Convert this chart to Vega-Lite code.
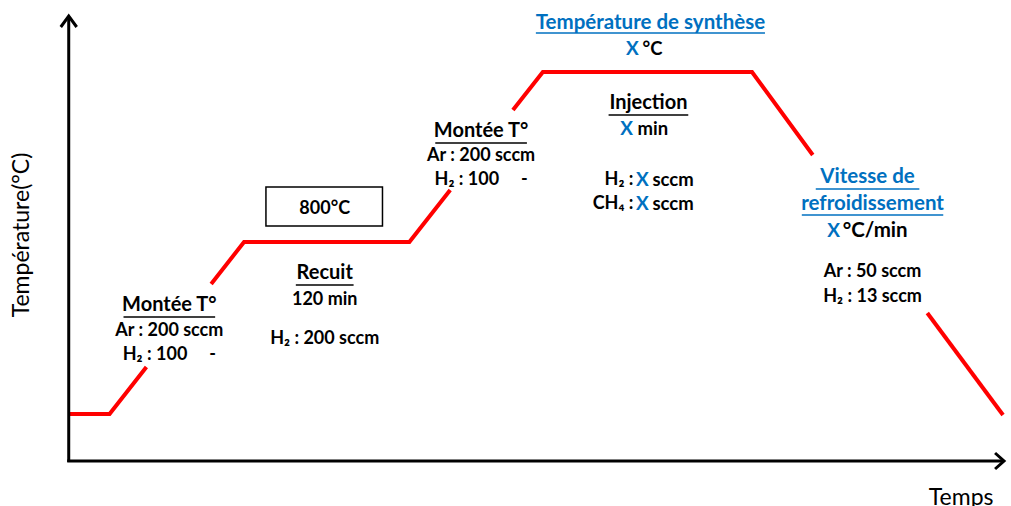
{
  "$schema": "https://vega.github.io/schema/vega-lite/v6.json",
  "width": 1011,
  "height": 506,
  "autosize": {"type": "fit", "contains": "padding"},
  "padding": 0,
  "background": "white",
  "config": {"view": {"stroke": null}},
  "encoding": {
    "x": {"field": "x", "type": "quantitative", "scale": {"domain": [0, 1011], "nice": false, "zero": false}, "axis": null},
    "y": {"field": "y", "type": "quantitative", "scale": {"domain": [0, 506], "nice": false, "zero": false, "reverse": true}, "axis": null}
  },
  "layer": [
    {
      "data": {"values": [
        {"seg": "a", "i": 1, "x": 70, "y": 414}, {"seg": "a", "i": 2, "x": 110, "y": 414}, {"seg": "a", "i": 3, "x": 147, "y": 367},
        {"seg": "b", "i": 1, "x": 212, "y": 284}, {"seg": "b", "i": 2, "x": 245, "y": 242}, {"seg": "b", "i": 3, "x": 411, "y": 242}, {"seg": "b", "i": 4, "x": 452, "y": 190},
        {"seg": "c", "i": 1, "x": 515, "y": 110}, {"seg": "c", "i": 2, "x": 545, "y": 72}, {"seg": "c", "i": 3, "x": 755, "y": 72}, {"seg": "c", "i": 4, "x": 816, "y": 155},
        {"seg": "d", "i": 1, "x": 931, "y": 313}, {"seg": "d", "i": 2, "x": 1007, "y": 415}
      ]},
      "mark": {"type": "line", "color": "#FF0000", "strokeWidth": 4, "strokeJoin": "miter"},
      "encoding": {"detail": {"field": "seg"}, "order": {"field": "i", "type": "quantitative"}}
    },
    {
      "data": {"values": [
        {"seg": "yaxis", "i": 1, "x": 69, "y": 462}, {"seg": "yaxis", "i": 2, "x": 69, "y": 17},
        {"seg": "xaxis", "i": 1, "x": 67.5, "y": 461}, {"seg": "xaxis", "i": 2, "x": 1008, "y": 461},
        {"seg": "uparrow", "i": 1, "x": 61, "y": 27}, {"seg": "uparrow", "i": 2, "x": 69, "y": 16}, {"seg": "uparrow", "i": 3, "x": 77, "y": 27},
        {"seg": "rarrow", "i": 1, "x": 999, "y": 453}, {"seg": "rarrow", "i": 2, "x": 1008, "y": 461}, {"seg": "rarrow", "i": 3, "x": 999, "y": 469}
      ]},
      "mark": {"type": "line", "color": "#000000", "strokeWidth": 3, "strokeJoin": "miter"},
      "encoding": {"detail": {"field": "seg"}, "order": {"field": "i", "type": "quantitative"}}
    },
    {
      "data": {"values": [{"x": 267, "x2": 384, "y": 187, "y2": 226}]},
      "mark": {"type": "rect", "fill": "white", "stroke": "black", "strokeWidth": 1.5},
      "encoding": {"x2": {"field": "x2"}, "y2": {"field": "y2"}}
    },
    {
      "data": {"values": [
        {"x": 124, "x2": 216, "y": 317},
        {"x": 297, "x2": 355, "y": 285},
        {"x": 437, "x2": 529, "y": 143},
        {"x": 611, "x2": 691, "y": 115}
      ]},
      "mark": {"type": "rule", "color": "black", "strokeWidth": 1.5},
      "encoding": {"x2": {"field": "x2"}}
    },
    {
      "data": {"values": [
        {"x": 538, "x2": 768, "y": 33},
        {"x": 819, "x2": 923, "y": 189},
        {"x": 805, "x2": 947, "y": 215}
      ]},
      "mark": {"type": "rule", "color": "#0070C0", "strokeWidth": 1.5},
      "encoding": {"x2": {"field": "x2"}}
    },
    {
      "data": {"values": [
        {"t": "Montée T°", "x": 170, "y": 305},
        {"t": "Recuit", "x": 326, "y": 273},
        {"t": "Montée T°", "x": 483, "y": 131},
        {"t": "Injection", "x": 651, "y": 103}
      ]},
      "mark": {"type": "text", "font": "Lato", "fontWeight": "bold", "fontSize": 20, "color": "black", "align": "center", "baseline": "middle"},
      "encoding": {"text": {"field": "t"}}
    },
    {
      "data": {"values": [
        {"t": "Ar : 200 sccm", "x": 170, "y": 331},
        {"t": "H₂ : 100\u00a0\u00a0\u00a0\u00a0\u00a0-", "x": 170, "y": 355},
        {"t": "800°C", "x": 326, "y": 209},
        {"t": "120 min", "x": 326, "y": 300},
        {"t": "H₂ : 200 sccm", "x": 326, "y": 339},
        {"t": "Ar : 200 sccm", "x": 483, "y": 156},
        {"t": "H₂ : 100\u00a0\u00a0\u00a0\u00a0\u00a0-", "x": 483, "y": 180},
        {"t": "Ar : 50 sccm", "x": 876, "y": 272},
        {"t": "H₂ : 13 sccm", "x": 876, "y": 297}
      ]},
      "mark": {"type": "text", "font": "Lato", "fontWeight": "bold", "fontSize": 18, "color": "black", "align": "center", "baseline": "middle"},
      "encoding": {"text": {"field": "t"}}
    },
    {
      "data": {"values": [
        {"t": "Température de synthèse", "x": 653, "y": 23},
        {"t": "Vitesse de", "x": 871, "y": 177},
        {"t": "refroidissement", "x": 876, "y": 204}
      ]},
      "mark": {"type": "text", "font": "Lato", "fontWeight": "bold", "fontSize": 20.5, "color": "#0070C0", "align": "center", "baseline": "middle"},
      "encoding": {"text": {"field": "t"}}
    },
    {
      "data": {"values": [
        {"t": "X", "x": 635, "y": 49},
        {"t": "X", "x": 629, "y": 129},
        {"t": "X", "x": 645, "y": 180},
        {"t": "X", "x": 645, "y": 204},
        {"t": "X", "x": 837, "y": 231}
      ]},
      "mark": {"type": "text", "font": "Lato", "fontWeight": "bold", "fontSize": 19, "color": "#0070C0", "align": "center", "baseline": "middle"},
      "encoding": {"text": {"field": "t"}}
    },
    {
      "data": {"values": [
        {"t": "°C", "x": 645, "y": 49},
        {"t": "min", "x": 640, "y": 129},
        {"t": "sccm", "x": 655, "y": 180},
        {"t": "sccm", "x": 655, "y": 204}
      ]},
      "mark": {"type": "text", "font": "Lato", "fontWeight": "bold", "fontSize": 18.5, "color": "black", "align": "left", "baseline": "middle"},
      "encoding": {"text": {"field": "t"}}
    },
    {
      "data": {"values": [
        {"t": "°C/min", "x": 846, "y": 231}
      ]},
      "mark": {"type": "text", "font": "Lato", "fontWeight": "bold", "fontSize": 20.5, "color": "black", "align": "left", "baseline": "middle"},
      "encoding": {"text": {"field": "t"}}
    },
    {
      "data": {"values": [
        {"t": "H₂ :", "x": 636, "y": 180},
        {"t": "CH₄ :", "x": 636, "y": 204}
      ]},
      "mark": {"type": "text", "font": "Lato", "fontWeight": "bold", "fontSize": 18, "color": "black", "align": "right", "baseline": "middle"},
      "encoding": {"text": {"field": "t"}}
    },
    {
      "data": {"values": [{"t": "Temps", "x": 965, "y": 498}]},
      "mark": {"type": "text", "font": "Lato", "fontSize": 23, "color": "black", "align": "center", "baseline": "middle", "clip": true},
      "encoding": {"text": {"field": "t"}}
    },
    {
      "data": {"values": [{"t": "Température(°C)", "x": 22, "y": 235}]},
      "mark": {"type": "text", "font": "Lato", "fontSize": 23, "color": "black", "align": "center", "baseline": "middle", "angle": 270},
      "encoding": {"text": {"field": "t"}}
    }
  ]
}
